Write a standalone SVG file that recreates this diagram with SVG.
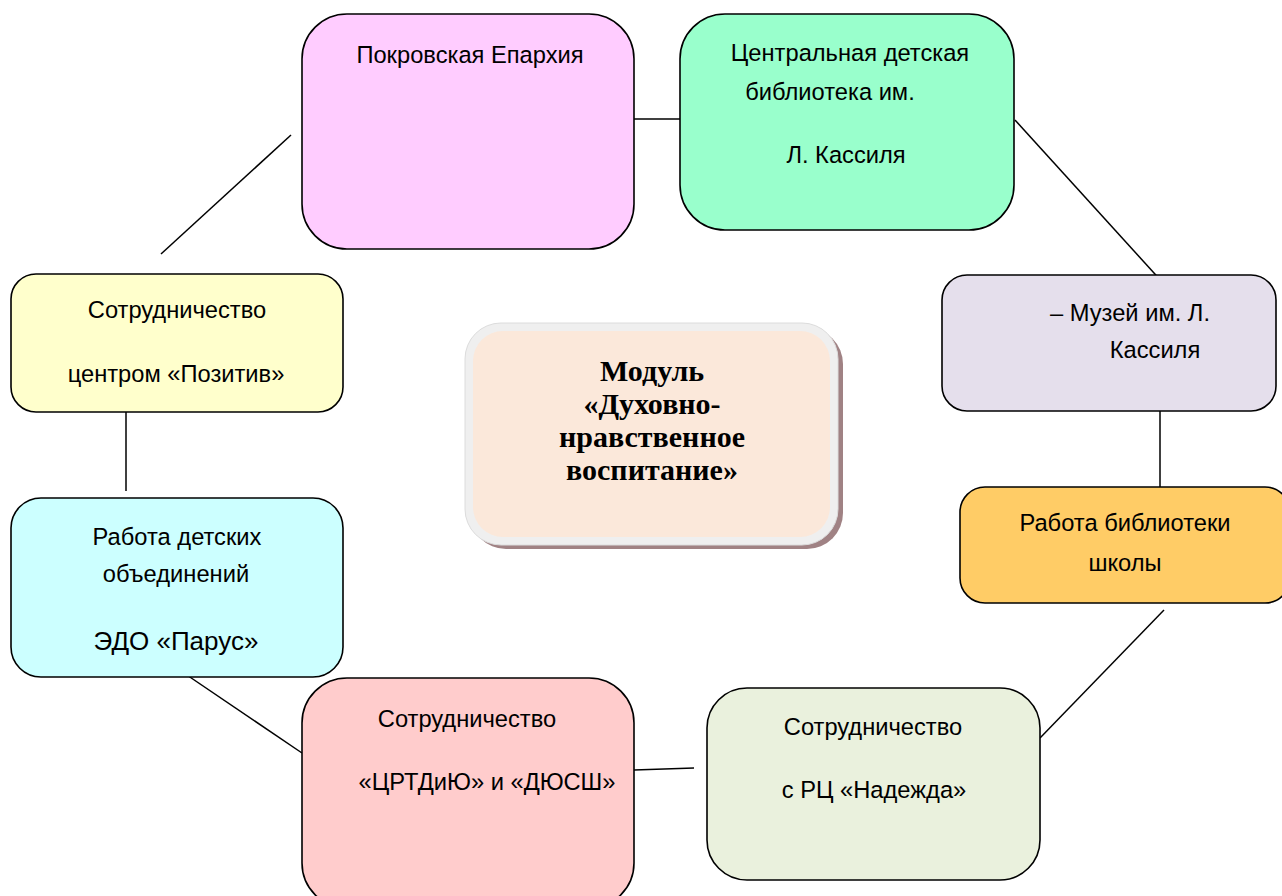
<svg xmlns="http://www.w3.org/2000/svg" width="1282" height="896" viewBox="0 0 1282 896">
<style>
.box{stroke:#000;stroke-width:1.6}
.t{font-family:"Liberation Sans",Arial,sans-serif;font-size:23.7px;fill:#000;text-anchor:middle}
.c{font-family:"Liberation Serif","Times New Roman",serif;font-size:30px;font-weight:bold;fill:#000;text-anchor:middle}
.ln{stroke:#000;stroke-width:1.5;fill:none}
</style>
<rect width="1282" height="896" fill="#fff"/>
<g id="connectors">
<line class="ln" x1="634" y1="119" x2="680" y2="119"/>
<line class="ln" x1="1015" y1="120" x2="1164" y2="284"/>
<line class="ln" x1="1160" y1="403" x2="1160" y2="490"/>
<line class="ln" x1="1164" y1="610" x2="1040" y2="738"/>
<line class="ln" x1="634" y1="770" x2="694" y2="768"/>
<line class="ln" x1="178" y1="669" x2="302" y2="753"/>
<line class="ln" x1="126" y1="403" x2="126" y2="491"/>
<line class="ln" x1="161" y1="254" x2="291" y2="135"/>
</g>
<g id="n-eparchy">
<rect class="box" x="302" y="14" width="332" height="235" rx="45" fill="#FFCCFF"/>
<text class="t" x="470" y="63">Покровская Епархия</text>
</g>
<g id="n-library">
<rect class="box" x="680" y="14" width="334" height="216" rx="45" fill="#99FFCC"/>
<text class="t" x="850" y="61">Центральная детская</text>
<text class="t" x="830" y="100">библиотека им.</text>
<text class="t" x="846" y="163">Л. Кассиля</text>
</g>
<g id="n-museum">
<rect class="box" x="942" y="275" width="334" height="136" rx="25" fill="#E5DFEC"/>
<text class="t" x="1130" y="321">– Музей им. Л.</text>
<text class="t" x="1155" y="358">Кассиля</text>
</g>
<g id="n-school-lib">
<rect class="box" x="960" y="487" width="330" height="116" rx="25" fill="#FFCC66"/>
<text class="t" x="1125" y="531">Работа библиотеки</text>
<text class="t" x="1125" y="571">школы</text>
</g>
<g id="n-nadezhda">
<rect class="box" x="707" y="688" width="333" height="192" rx="40" fill="#EAF1DD"/>
<text class="t" x="873" y="735">Сотрудничество</text>
<text class="t" x="874" y="798">с РЦ «Надежда»</text>
</g>
<g id="n-crtdiyu">
<rect class="box" x="302" y="678" width="332" height="230" rx="45" fill="#FFCCCC"/>
<text class="t" x="467" y="727">Сотрудничество</text>
<text class="t" x="487" y="790">«ЦРТДиЮ» и «ДЮСШ»</text>
</g>
<g id="n-parus">
<rect class="box" x="11" y="498" width="332" height="179" rx="30" fill="#CCFFFF"/>
<text class="t" x="177" y="545">Работа детских</text>
<text class="t" x="176" y="582">объединений</text>
<text class="t" x="176" y="650" style="font-size:26px">ЭДО «Парус»</text>
</g>
<g id="n-pozitiv">
<rect class="box" x="11" y="274" width="332" height="138" rx="25" fill="#FFFFCC"/>
<text class="t" x="177" y="318">Сотрудничество</text>
<text class="t" x="176" y="382">центром «Позитив»</text>
</g>
<g id="n-center">
<rect x="470" y="328" width="373" height="221" rx="36" fill="#a08284"/>
<rect x="465" y="323" width="373" height="222" rx="36" fill="#efefef" stroke="#dcdcdc" stroke-width="1"/>
<rect x="473" y="331" width="357" height="206" rx="30" fill="#FBE8DA"/>
<text class="c" x="652" y="381">Модуль</text>
<text class="c" x="652" y="414">«Духовно-</text>
<text class="c" x="652" y="447">нравственное</text>
<text class="c" x="652" y="480">воспитание»</text>
</g>
</svg>
